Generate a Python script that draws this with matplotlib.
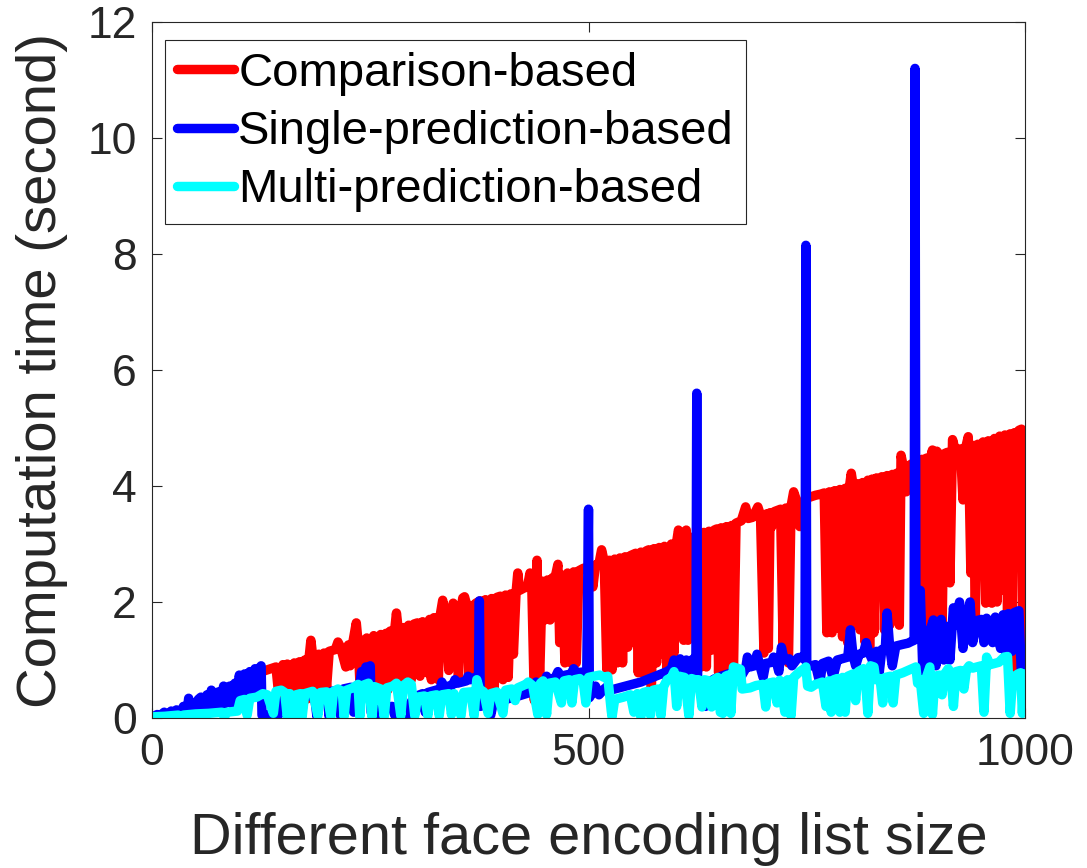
import matplotlib
matplotlib.use('Agg')
import matplotlib.pyplot as plt

# (list size, seconds)
comparison = [
    (1, 0.02), (30, 0.08), (60, 0.22), (90, 0.4), (120, 0.62), (126, 0.8),
    (142, 0.88), (146, 0.28), (150, 0.92), (152, 0.3), (155, 0.93), (160, 0.3), (163, 0.95), (166, 0.32),
    (169, 0.97), (172, 0.35), (175, 1.0), (178, 0.33), (180, 1.05), (182, 1.34), (184, 1.08), (188, 0.53),
    (191, 1.1), (194, 0.55), (197, 1.12), (200, 0.53), (203, 1.15), (210, 1.18), (213, 1.31), (216, 1.22),
    (222, 0.88), (225, 1.26), (227, 0.9), (230, 1.3), (234, 1.64), (236, 1.32), (238, 0.66), (240, 1.34),
    (243, 0.7), (246, 1.38), (251, 0.88), (254, 1.42), (259, 0.48), (262, 1.44), (265, 0.5), (268, 1.46),
    (270, 0.48), (273, 1.5), (276, 0.55), (278, 1.52), (280, 1.81), (282, 1.54), (286, 0.55), (289, 1.56),
    (291, 0.6), (294, 1.6), (297, 0.66), (300, 1.62), (304, 1.64), (307, 0.72), (310, 1.66), (315, 0.78),
    (318, 1.7), (320, 0.66), (323, 1.73), (328, 0.66), (330, 1.76), (333, 2.03), (336, 1.8), (340, 0.82),
    (343, 1.84), (345, 1.98), (348, 1.86), (351, 0.66), (354, 1.88), (356, 2.07), (358, 2.09), (361, 1.92),
    (363, 0.7), (366, 1.94), (368, 0.72), (371, 1.98), (376, 2.02), (379, 0.46), (382, 2.04), (386, 0.46),
    (389, 2.06), (392, 0.5), (395, 2.08), (399, 2.1), (402, 0.66), (405, 2.12), (408, 0.7), (411, 2.14),
    (414, 1.1), (417, 2.16), (419, 2.5), (421, 2.2), (426, 2.24), (430, 2.26), (433, 2.5), (435, 2.3),
    (438, 0.3), (441, 2.72), (444, 0.66), (447, 2.36), (450, 1.69), (453, 2.38), (456, 1.69), (459, 2.42),
    (462, 2.44), (465, 2.65), (467, 1.3), (470, 2.46), (473, 0.95), (476, 2.5), (480, 0.95), (483, 2.52),
    (486, 0.95), (489, 2.54), (494, 2.58), (499, 2.6), (502, 2.62), (505, 2.26), (508, 2.64), (512, 2.66),
    (515, 2.9), (518, 2.7), (521, 0.83), (524, 2.72), (527, 0.83), (530, 2.74), (533, 0.95), (536, 2.76),
    (539, 0.95), (542, 2.78), (545, 1.22), (548, 2.8), (551, 2.82), (554, 2.84), (557, 0.78), (560, 2.86),
    (563, 0.78), (566, 2.88), (569, 2.9), (572, 0.45), (575, 2.92), (578, 0.95), (581, 2.94), (584, 1.1),
    (587, 2.96), (590, 0.66), (593, 2.2), (595, 3.0), (598, 1.12), (601, 3.04), (603, 3.24), (606, 3.06),
    (609, 1.34), (612, 3.24), (614, 1.34), (617, 3.1), (620, 3.12), (623, 3.14), (626, 3.18), (629, 0.88),
    (632, 3.2), (635, 0.88), (638, 3.22), (641, 1.17), (644, 3.24), (647, 3.26), (649, 0.78), (652, 3.28),
    (655, 0.78), (658, 3.3), (661, 0.78), (664, 3.32), (666, 0.78), (669, 3.36), (675, 3.4), (680, 3.64),
    (683, 3.44), (688, 3.46), (694, 3.64), (697, 3.5), (701, 1.12), (704, 3.52), (706, 1.2), (708, 3.54),
    (710, 3.3), (713, 3.56), (720, 3.6), (723, 1.2), (726, 3.62), (729, 0.95), (732, 3.65), (735, 3.9),
    (737, 3.81), (740, 3.7), (742, 3.3), (745, 3.72), (748, 3.74), (752, 3.8), (760, 3.84), (766, 3.86),
    (770, 3.88), (773, 1.47), (776, 3.9), (779, 1.47), (782, 3.92), (785, 1.55), (788, 3.94), (791, 1.4),
    (794, 3.96), (797, 1.3), (799, 4.0), (801, 4.22), (803, 4.02), (806, 1.6), (808, 4.04), (811, 1.52),
    (814, 4.06), (817, 1.3), (820, 4.1), (822, 1.12), (825, 4.12), (827, 1.47), (830, 4.14), (833, 3.5),
    (836, 4.16), (839, 1.52), (842, 4.18), (845, 1.6), (848, 4.2), (850, 1.74), (853, 4.22), (856, 1.6),
    (858, 4.53), (861, 4.3), (864, 3.9), (867, 4.35), (870, 4.38), (873, 4.4), (877, 4.42), (882, 4.46),
    (884, 1.52), (887, 4.48), (889, 1.3), (892, 4.5), (894, 4.62), (896, 1.47), (899, 4.6), (902, 4.54),
    (905, 1.5), (908, 4.56), (911, 4.58), (914, 2.33), (917, 4.8), (920, 4.62), (923, 4.5), (926, 4.64),
    (929, 3.76), (932, 4.66), (935, 4.85), (938, 2.5), (941, 4.7), (943, 1.6), (946, 4.72), (949, 4.6),
    (952, 4.76), (955, 1.98), (958, 4.78), (962, 1.98), (965, 4.82), (968, 2.0), (971, 4.86), (974, 2.2),
    (977, 4.88), (980, 1.81), (983, 4.9), (985, 0.8), (988, 4.92), (990, 4.8), (993, 4.96), (996, 4.98),
    (998, 0.43),
]

single = [
    (1, 0.02), (6, 0.06), (8, 0.02), (10, 0.05), (14, 0.1), (18, 0.04), (22, 0.12), (25, 0.06), (28, 0.14),
    (32, 0.05), (36, 0.2), (40, 0.08), (42, 0.34), (45, 0.1), (48, 0.26), (50, 0.12), (53, 0.32), (56, 0.36),
    (58, 0.12), (60, 0.3), (63, 0.4), (66, 0.15), (68, 0.48), (70, 0.2), (72, 0.42), (74, 0.2), (76, 0.45),
    (79, 0.2), (82, 0.55), (84, 0.25), (86, 0.5), (89, 0.55), (91, 0.25), (93, 0.55), (95, 0.6), (98, 0.35),
    (100, 0.74), (103, 0.34), (106, 0.76), (109, 0.35), (112, 0.8), (115, 0.4), (118, 0.85), (121, 0.38),
    (124, 0.88), (125, 0.9), (126, 0.05), (146, 0.07), (148, 0.28), (155, 0.3), (158, 0.02), (161, 0.32),
    (168, 0.34), (171, 0.02), (174, 0.36), (186, 0.4), (189, 0.02), (192, 0.42), (200, 0.44), (203, 0.02),
    (206, 0.46), (213, 0.48), (216, 0.04), (219, 0.5), (228, 0.53), (231, 0.1), (234, 0.55), (238, 0.58),
    (240, 0.8), (242, 0.6), (245, 0.88), (247, 0.62), (250, 0.9), (251, 0.1), (258, 0.15), (260, 0.02),
    (263, 0.18), (275, 0.2), (278, 0.05), (281, 0.2), (290, 0.22), (293, 0.05), (296, 0.25), (300, 0.36),
    (310, 0.42), (313, 0.1), (316, 0.44), (330, 0.5), (332, 0.62), (335, 0.52), (345, 0.58), (347, 0.66),
    (350, 0.6), (360, 0.64), (362, 0.72), (365, 0.66), (370, 0.7), (374, 0.72), (375, 2.02), (376, 0.2),
    (385, 0.24), (388, 0.05), (391, 0.26), (405, 0.32), (420, 0.38), (435, 0.45), (440, 0.62), (443, 0.5),
    (450, 0.6), (452, 0.72), (455, 0.65), (462, 0.7), (465, 0.8), (468, 0.72), (480, 0.76), (483, 0.85),
    (486, 0.78), (498, 0.8), (500, 3.6), (501, 0.35), (505, 0.45), (508, 0.55), (512, 0.4), (518, 0.5),
    (522, 0.55), (525, 0.48), (530, 0.5), (560, 0.62), (590, 0.8), (595, 0.85), (598, 1.0), (602, 0.78),
    (605, 1.02), (608, 0.8), (612, 1.0), (616, 0.82), (620, 1.02), (623, 0.85), (624, 5.6), (625, 0.66),
    (630, 0.6), (634, 0.2), (638, 0.62), (645, 0.68), (648, 0.3), (652, 0.72), (660, 0.76), (665, 0.78),
    (672, 0.82), (675, 0.72), (680, 0.85), (682, 1.05), (685, 0.88), (690, 0.9), (693, 1.1), (696, 0.92),
    (700, 0.7), (703, 0.94), (710, 0.96), (712, 1.05), (715, 0.98), (718, 0.8), (721, 1.22), (724, 1.0),
    (730, 1.02), (733, 0.9), (740, 1.04), (745, 1.05), (748, 1.0), (749, 8.15), (750, 0.88), (760, 0.92),
    (765, 0.6), (768, 0.94), (775, 0.98), (780, 0.7), (785, 1.0), (790, 1.02), (797, 1.05), (800, 1.52),
    (803, 1.08), (806, 0.9), (810, 1.1), (815, 1.12), (818, 1.3), (821, 1.14), (825, 1.0), (830, 1.15),
    (833, 0.78), (836, 1.18), (840, 1.2), (842, 1.81), (845, 1.22), (848, 0.9), (852, 1.24), (860, 1.27),
    (866, 1.29), (870, 1.32), (873, 1.34), (874, 11.2), (875, 2.2), (877, 1.5), (880, 2.2), (883, 0.8),
    (886, 1.5), (889, 0.8), (892, 1.55), (895, 1.69), (898, 0.9), (901, 1.55), (904, 1.7), (907, 1.0),
    (910, 1.58), (914, 1.0), (918, 1.9), (921, 1.6), (925, 2.0), (929, 1.2), (932, 1.64), (937, 2.0),
    (940, 1.3), (945, 1.68), (950, 1.7), (953, 1.3), (956, 1.72), (963, 1.3), (966, 1.74), (972, 1.2),
    (975, 1.78), (978, 1.1), (981, 1.8), (985, 1.15), (988, 1.82), (993, 1.85), (996, 0.7),
]

multi = [
    (1, 0.02), (15, 0.03), (30, 0.05), (33, 0.0), (36, 0.05), (50, 0.07), (65, 0.08), (80, 0.1), (83, 0.02),
    (86, 0.1), (98, 0.12), (101, 0.3), (106, 0.32), (109, 0.05), (112, 0.34), (120, 0.36), (127, 0.42),
    (132, 0.4), (139, 0.08), (142, 0.46), (148, 0.48), (152, 0.44), (155, 0.02), (158, 0.42), (162, 0.02),
    (165, 0.4), (170, 0.42), (172, 0.02), (175, 0.42), (184, 0.46), (190, 0.04), (193, 0.44), (200, 0.45),
    (205, 0.02), (208, 0.46), (213, 0.5), (218, 0.46), (220, 0.02), (223, 0.48), (230, 0.52), (236, 0.58),
    (238, 0.02), (241, 0.56), (248, 0.6), (252, 0.02), (255, 0.54), (262, 0.5), (266, 0.02), (269, 0.52),
    (276, 0.55), (280, 0.6), (285, 0.04), (288, 0.56), (293, 0.62), (297, 0.58), (301, 0.04), (304, 0.36),
    (312, 0.38), (316, 0.04), (319, 0.38), (326, 0.4), (329, 0.04), (332, 0.4), (340, 0.42), (343, 0.06),
    (346, 0.42), (354, 0.04), (357, 0.44), (365, 0.45), (369, 0.04), (372, 0.66), (375, 0.5), (380, 0.45),
    (385, 0.08), (388, 0.42), (395, 0.45), (402, 0.08), (405, 0.48), (412, 0.5), (416, 0.3), (419, 0.52),
    (428, 0.58), (431, 0.62), (436, 0.56), (442, 0.06), (445, 0.6), (448, 0.64), (452, 0.06), (455, 0.6),
    (462, 0.62), (469, 0.26), (472, 0.64), (478, 0.66), (481, 0.26), (484, 0.66), (490, 0.68), (494, 0.62),
    (497, 0.26), (500, 0.7), (506, 0.72), (513, 0.74), (518, 0.7), (522, 0.72), (526, 0.13), (527, 0.02),
    (530, 0.32), (540, 0.36), (548, 0.4), (552, 0.1), (556, 0.42), (560, 0.02), (563, 0.44), (568, 0.46),
    (571, 0.05), (574, 0.48), (580, 0.5), (583, 0.04), (586, 0.54), (590, 0.66), (595, 0.7), (598, 0.8),
    (601, 0.2), (604, 0.72), (610, 0.7), (615, 0.04), (618, 0.68), (622, 0.66), (626, 0.66), (630, 0.19),
    (633, 0.66), (638, 0.64), (641, 0.19), (644, 0.66), (648, 0.7), (651, 0.1), (654, 0.08), (657, 0.72),
    (660, 0.74), (663, 0.08), (666, 0.88), (670, 0.86), (674, 0.84), (676, 0.5), (685, 0.52), (692, 0.56),
    (700, 0.58), (703, 0.19), (706, 0.6), (712, 0.62), (716, 0.26), (719, 0.65), (725, 0.1), (728, 0.66),
    (732, 0.04), (735, 0.7), (742, 0.8), (747, 0.85), (749, 0.88), (751, 0.55), (755, 0.53), (760, 0.58),
    (768, 0.62), (772, 0.2), (775, 0.64), (778, 0.1), (781, 0.66), (785, 0.68), (788, 0.1), (791, 0.7),
    (794, 0.1), (797, 0.72), (803, 0.76), (806, 0.3), (809, 0.8), (815, 0.85), (818, 0.5), (820, 0.08),
    (823, 0.9), (827, 0.88), (829, 0.66), (834, 0.68), (837, 0.26), (840, 0.7), (846, 0.72), (849, 0.26),
    (852, 0.74), (860, 0.78), (866, 0.82), (872, 0.86), (875, 0.88), (877, 0.6), (880, 0.66), (884, 0.08),
    (887, 0.7), (891, 0.88), (894, 0.06), (897, 0.72), (902, 0.74), (905, 0.4), (908, 0.76), (912, 0.85),
    (915, 0.78), (918, 0.2), (921, 0.8), (926, 0.82), (930, 0.5), (933, 0.84), (936, 0.9), (940, 0.86),
    (945, 0.88), (950, 0.9), (953, 0.1), (956, 1.05), (960, 0.92), (965, 0.94), (970, 0.96), (976, 1.05),
    (980, 1.06), (983, 0.08), (986, 0.7), (992, 0.76), (995, 0.78), (997, 0.08), (999, 0.76),
]

labels = ['Comparison-based', 'Single-prediction-based', 'Multi-prediction-based']
colors = ['#ff0000', '#0000ff', '#00ffff']

plt.rcParams['font.family'] = ['Liberation Sans', 'DejaVu Sans']

fig = plt.figure(figsize=(10.87, 8.68), dpi=100)
ax = fig.add_axes([152 / 1087, 150 / 868, 873 / 1087, 696 / 868])

for pts, col, lab in zip([comparison, single, multi], colors, labels):
    xs, ys = zip(*pts)
    ax.plot(xs, ys, color=col, lw=6.8, label=lab,
            solid_capstyle='round', solid_joinstyle='round')

ax.set_xlim(0, 1000)
ax.set_ylim(0, 12)
ax.set_xticks([0, 500, 1000])
ax.set_yticks(range(0, 13, 2))
ax.tick_params(direction='in', top=True, right=True, length=7, width=0.8,
               labelsize=32, pad=11, color='#262626', labelcolor='#262626')
for sp in ax.spines.values():
    sp.set_color('#262626')
    sp.set_linewidth(0.8)

ax.set_xlabel('Different face encoding list size', fontsize=41.5, color='#262626', labelpad=27)
ax.set_ylabel('Computation time (second)', fontsize=40.5, color='#262626', labelpad=14)

leg = ax.legend(loc='upper left', bbox_to_anchor=(0.015, 0.974), borderaxespad=0,
                fontsize=34, handlelength=1.2, handletextpad=0.1, labelspacing=0.3,
                borderpad=0.25, fancybox=False, framealpha=1, edgecolor='#262626')
leg.get_frame().set_linewidth(0.8)

fig.savefig('out.png', dpi=100)
